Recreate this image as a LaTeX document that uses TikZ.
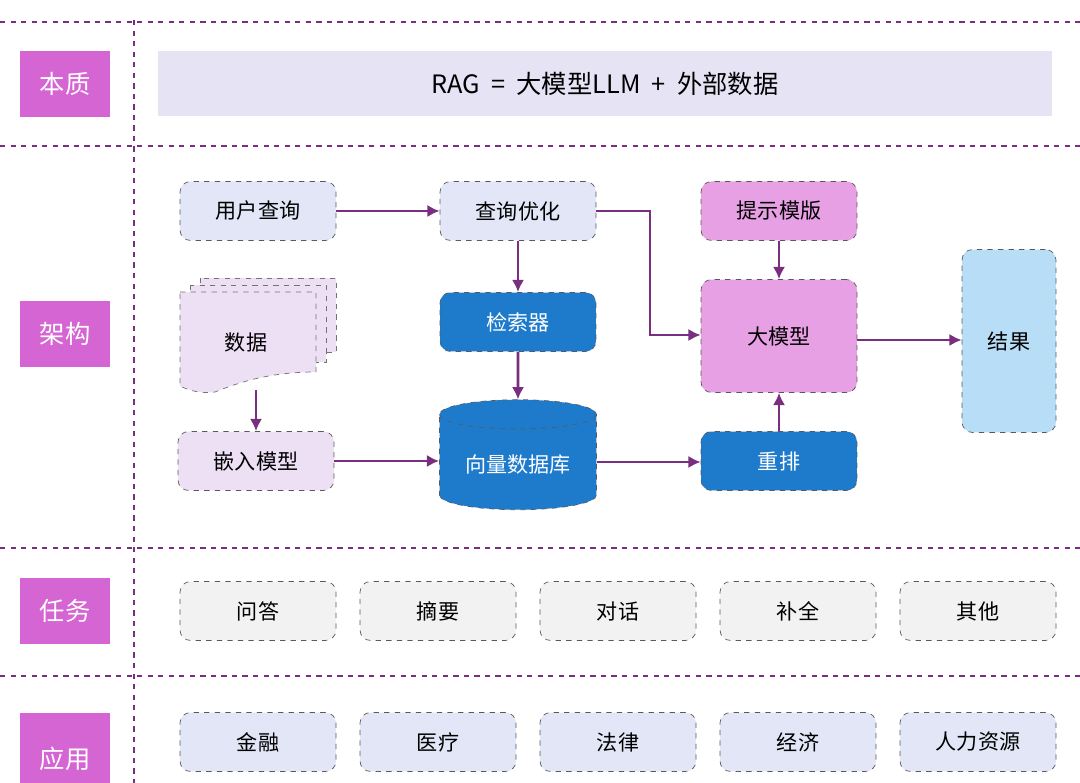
\documentclass[tikz,border=0pt]{standalone}
\usepackage{fontspec}
\setmainfont{Noto Sans CJK SC}
\usetikzlibrary{shapes.geometric,arrows.meta}
\definecolor{arrowc}{HTML}{7A2E7F}
\definecolor{tagc}{HTML}{D565D2}
\definecolor{bannerc}{HTML}{E6E3F5}
\definecolor{qc}{HTML}{E2E6F6}
\definecolor{embc}{HTML}{EDE0F5}
\definecolor{pinkc}{HTML}{E8A0E4}
\definecolor{bluec}{HTML}{1E7BCC}
\definecolor{resc}{HTML}{B8DDF6}
\definecolor{greyc}{HTML}{F2F2F2}
\tikzset{
  tag/.style={fill=tagc,text=white,minimum width=1.8cm,minimum height=1.32cm,font=\Large},
  box/.style={draw=black!65,dashed,rounded corners=6pt,minimum width=3.12cm,minimum height=1.18cm,font=\large},
  sheet/.style={draw=black!55,dashed,fill=embc},
  conn/.style={arrowc,line width=1.6pt,-{Latex[length=7pt,width=7pt]}},
  sep/.style={arrowc,dashed,line width=1.2pt}
}
\begin{document}
\begin{tikzpicture}[x=0.02cm,y=-0.02cm]
\useasboundingbox[fill=white] (0,0) rectangle (1080,783);
% separators
\draw[sep] (0,22) -- (1080,22);
\draw[sep] (0,146) -- (1080,146);
\draw[sep] (0,548) -- (1080,548);
\draw[sep] (0,676) -- (1080,676);
\draw[sep] (134,20) -- (134,783);
% row tags
\node[tag] (tagEssence) at (65,84) {本质};
\node[tag] (tagArch) at (65,334) {架构};
\node[tag] (tagTask) at (65,611) {任务};
\begin{scope}
\clip (0,0) rectangle (1080,783);
\node[tag,minimum height=1.8cm,text depth=-0.4cm] (tagApp) at (65,758) {应用};
\end{scope}
\node[fill=bannerc,minimum width=17.88cm,minimum height=1.3cm,font=\Large] (banner) at (605,84) {RAG\ \ =\ \ 大模型LLM\ \ +\ \ 外部数据};
% architecture
\node[box,fill=qc] (query) at (258,211) {用户查询};
\node[box,fill=qc] (rewrite) at (518,211) {查询优化};
\node[box,fill=pinkc] (prompt) at (779,211) {提示模版};
\node[box,fill=bluec,text=white] (retriever) at (518,322) {检索器};
\node[box,fill=pinkc,minimum height=2.26cm] (llm) at (779,336) {大模型};
\node[box,fill=resc,minimum width=1.88cm,minimum height=3.66cm] (result) at (1009,341) {结果};
\node[box,fill=embc] (embed) at (256,461) {嵌入模型};
\node[box,fill=bluec,text=white] (rerank) at (779,461) {重排};
\node[cylinder,shape border rotate=90,aspect=0.25,draw=black!65,dashed,fill=bluec,text=white,
  minimum width=3.14cm,minimum height=2.2cm,font=\large] (vecdb) at (518,465) {\raisebox{-6pt}{向量数据库}};
% document stack
\draw[sheet] (200,278) rectangle (336,352);
\draw[sheet] (190,285) rectangle (326,362);
\draw[sheet] (180,292) -- (316,292) -- (316,372)
  .. controls (270,372) and (240,382) .. (215,392) .. controls (200,394) and (188,390) .. (180,386) -- cycle;
\node[font=\large] (data) at (246,343) {数据};
\coordinate (dataBot) at (256,390);
% connectors
\draw[conn] (query) -- (rewrite);
\draw[conn] (rewrite) -- (retriever);
\draw[conn] (retriever) -- (vecdb);
\draw[conn] (rewrite.east) -- (650,211) |- (llm.west|-0,335);
\draw[conn] (prompt) -- (llm);
\draw[conn] (dataBot) -- (embed);
\draw[conn] (embed) -- (vecdb.west|-0,461);
\draw[conn] (vecdb.east|-0,462) -- (rerank.west|-0,462);
\draw[conn] (rerank) -- (llm);
\draw[conn] (llm.east|-0,340) -- (result.west|-0,340);
% tasks and applications
\foreach \t/\x in {问答/258,摘要/438,对话/618,补全/798,其他/978}
  \node[box,fill=greyc] (task\x) at (\x,611) {\t};
\foreach \t/\x in {金融/258,医疗/438,法律/618,经济/798,人力资源/978}
  \node[box,fill=qc] (app\x) at (\x,742) {\t};
\end{tikzpicture}
\end{document}
